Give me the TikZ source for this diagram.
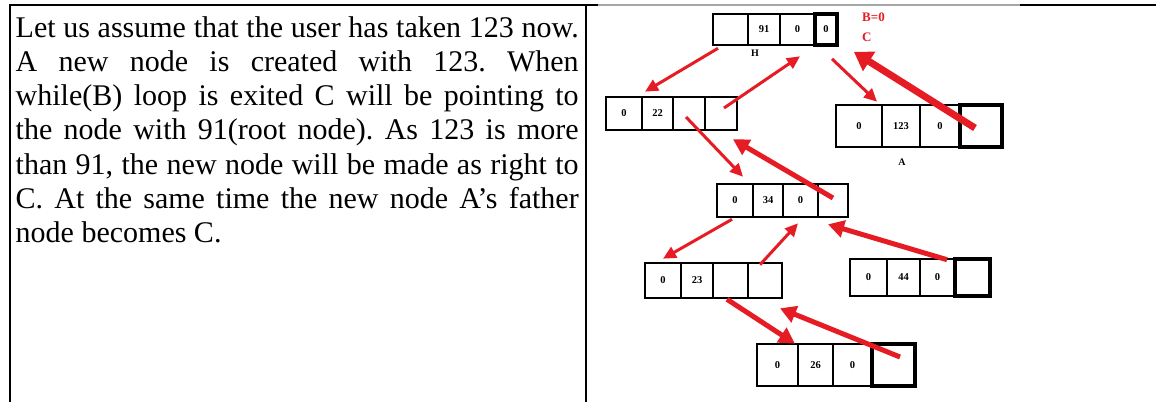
\documentclass[tikz,border=0pt]{standalone}
\usepackage{fontspec}
\setmainfont{Liberation Serif}
\usetikzlibrary{arrows.meta,calc}
\definecolor{arr}{RGB}{230,28,36}
\newcommand\mkcell[7]{\node[#1,minimum width={#4-#3},minimum height={#6-#5}] (#2) at ({(#3+#4)/2},{(#5+#6)/2}) {#7};}
\begin{document}
\begin{tikzpicture}[x=1pt,y=-1pt,
  cell/.style={draw,line width=2.6pt,inner sep=0pt,font=\bfseries\fontsize{10.5}{10.5}\selectfont},
  heavycell/.style={cell,line width=3.8pt},
  arrthin/.style={draw=arr,line width=3pt,-{Triangle[length=13pt,width=12pt]}},
  arrfat/.style={draw=arr,line width=5pt,-{Triangle[length=16pt,width=17pt]}},
  arrhuge/.style={draw=arr,line width=7pt,-{Triangle[length=18pt,width=22pt]}},
  tablerule/.style={line width=2pt},
  lbl/.style={font=\bfseries\fontsize{10}{10}\selectfont,inner sep=0pt},
  redlbl/.style={text=arr,font=\bfseries\fontsize{13}{13}\selectfont,inner sep=0pt,anchor=west}]
\useasboundingbox (0,0) rectangle (1156,402);
% table rules
\draw[tablerule] (9,5) -- (598,5);
\draw[line width=1.5pt,gray!70] (598,5) -- (1020,5);
\draw[tablerule] (1020,5) -- (1156,5);
\draw[tablerule] (10,4) -- (10,402);
\draw[tablerule] (586,4) -- (586,402);
% text
\node[anchor=base west,inner sep=0pt] (txt) at (15.5,37) {\parbox[t]{563pt}{\fontsize{30}{34.3}\selectfont\frenchspacing\hyphenpenalty=10000\sloppy
Let us assume that the user has taken 123 now.\linebreak
A new node is created with 123. When\linebreak
while(B) loop is exited C will be pointing to\linebreak
the node with 91(root node). As 123 is more\linebreak
than 91, the new node will be made as right to\linebreak
C. At the same time the new node A’s father\linebreak
node becomes C.\par}};
% root H
\mkcell{cell}{h1}{713}{748}{14}{45}{}
\mkcell{cell}{h2}{748}{780}{14}{45}{91}
\mkcell{cell}{h3}{780}{815}{14}{45}{0}
\mkcell{heavycell}{h4}{815}{837}{14}{45}{0}
\node[lbl] (lH) at (755,53) {H};
\node[redlbl] (lB) at (862,17) {B=0};
\node[redlbl] (lC) at (862,37) {C};
% node 22
\mkcell{cell}{b1}{606}{642}{97}{130}{0}
\mkcell{cell}{b2}{642}{673}{97}{130}{22}
\mkcell{cell}{b3}{673}{705}{97}{130}{}
\mkcell{cell}{b4}{705}{737}{97}{130}{}
% node A 123
\mkcell{cell}{a1}{836}{882}{105}{147}{0}
\mkcell{cell}{a2}{882}{920}{105}{147}{123}
\mkcell{cell}{a3}{920}{960}{105}{147}{0}
\mkcell{heavycell}{a4}{960}{1002}{105}{147}{}
\node[lbl] (lA) at (902,162) {A};
% node 34
\mkcell{cell}{c1}{717}{753}{184}{217}{0}
\mkcell{cell}{c2}{753}{783}{184}{217}{34}
\mkcell{cell}{c3}{783}{818}{184}{217}{0}
\mkcell{cell}{c4}{818}{848}{184}{217}{}
% node 23
\mkcell{cell}{d1}{645}{681}{263}{298}{0}
\mkcell{cell}{d2}{681}{713}{263}{298}{23}
\mkcell{cell}{d3}{713}{748}{263}{298}{}
\mkcell{cell}{d4}{748}{782}{263}{298}{}
% node 44
\mkcell{cell}{f1}{850}{887}{259}{296}{0}
\mkcell{cell}{f2}{887}{920}{259}{296}{44}
\mkcell{cell}{f3}{920}{955}{259}{296}{0}
\mkcell{heavycell}{f4}{955}{990}{259}{296}{}
% node 26
\mkcell{cell}{g1}{757}{798}{344}{386}{0}
\mkcell{cell}{g2}{798}{833}{344}{386}{26}
\mkcell{cell}{g3}{833}{872}{344}{386}{0}
\mkcell{heavycell}{g4}{872}{915}{344}{386}{}
% arrows
\draw[arrthin] ([xshift=-12.5pt,yshift=-2pt]h1.south) -- ([xshift=21pt,yshift=4pt]b1.north);
\draw[arrthin] ([xshift=3pt,yshift=5.5pt]b4.center) -- ([xshift=2.5pt,yshift=-10pt]h3.south);
\draw[arrthin] ([xshift=6pt,yshift=-12pt]h4.south) -- ([xshift=18pt,yshift=2pt]a1.north);
\draw[arrhuge] ([xshift=-6pt,yshift=-2pt]a4.center) -- ([xshift=15pt,yshift=-5pt]h4.south east);
\draw[arrthin] ([xshift=-3pt,yshift=-3.5pt]b3.center) -- ([xshift=8pt,yshift=6pt]c1.north);
\draw[arrfat] ([yshift=2.5pt]c4.center) -- ([xshift=12pt,yshift=-8pt]b4.south);
\draw[arrthin] ([xshift=-3pt,yshift=-1pt]c1.south) -- ([yshift=3pt]d1.north);
\draw[arrthin] ([xshift=-5pt,yshift=-3pt]d4.north) -- ([xshift=-2.5pt,yshift=-5pt]c3.south);
\draw[arrfat] ([xshift=9.5pt,yshift=-2pt]f3.north) -- ([xshift=-5pt,yshift=-6pt]c4.south);
\draw[arrfat] ([xshift=-3.5pt]d3.south) -- ([xshift=17.5pt,yshift=-1pt]g1.north);
\draw[arrfat] ([xshift=6.5pt,yshift=8pt]g4.center) -- ([xshift=15pt,yshift=-9pt]d4.south);
\end{tikzpicture}
\end{document}
